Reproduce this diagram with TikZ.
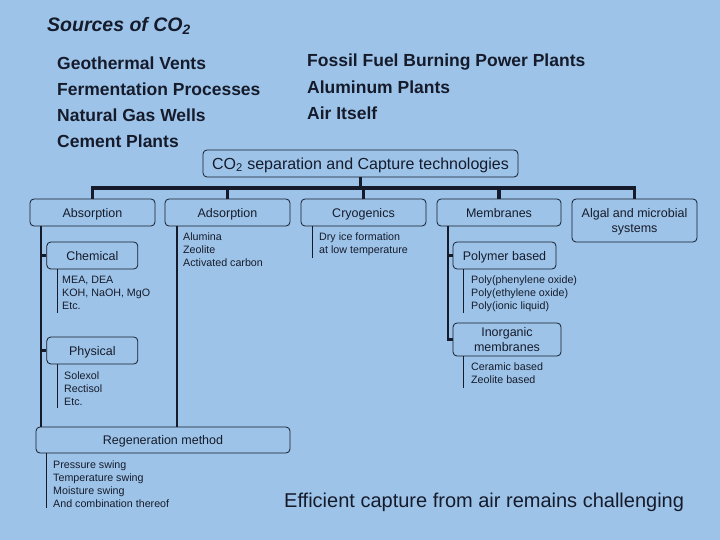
\documentclass[tikz,border=0pt]{standalone}
\usepackage{fontspec}
\setmainfont{Liberation Sans}
\usetikzlibrary{positioning}
\definecolor{slidebg}{RGB}{157,196,232}
\definecolor{ink}{RGB}{22,27,44}

\begin{document}
\begin{tikzpicture}[
    x=1pt, y=-1pt,
    font=\fontsize{12.5}{14.5}\selectfont,
    every node/.style={text=ink},
    box/.style={rectangle, rounded corners=4pt, draw=ink, line width=0.8pt, inner sep=0pt, text depth=0pt, minimum width=125pt, minimum height=27pt, align=center},
    items/.style={anchor=north west, inner sep=0pt, align=left, font=\fontsize{10.7}{13}\selectfont},
    source/.style={anchor=base west, inner sep=0pt, font=\fontsize{17.5}{21}\selectfont\bfseries},
    bus/.style={draw=ink, line width=3.4pt},
    stem/.style={draw=ink, line width=2.2pt},
    rule/.style={draw=ink, line width=0.8pt},
]
\fill[slidebg] (0,0) rectangle (720,540);
\useasboundingbox (0,0) rectangle (720,540);

% Sources
\node[anchor=base west, inner sep=0pt, font=\fontsize{19.5}{22}\selectfont\bfseries\itshape] (title) at (47,31.5) {Sources of CO\textsubscript{2}};
\node[source] (geo) at (57,70) {Geothermal Vents};
\node[source] (ferm) at (57,96) {Fermentation Processes};
\node[source] (gas) at (57,122) {Natural Gas Wells};
\node[source] (cement) at (57,147.5) {Cement Plants};
\node[source] (fossil) at (307,67) {Fossil Fuel Burning Power Plants};
\node[source] (alum) at (307,94) {Aluminum Plants};
\node[source] (air) at (307,120) {Air Itself};

% Technologies
\node[box, minimum width=315pt, font=\fontsize{16}{19}\selectfont] (tech) at (360.5,163.5) {CO\textsubscript{2} separation and Capture technologies};
\node[box] (absorb) at (92.5,212.5) {Absorption};
\node[box] (adsorb) at (227.5,212.5) {Adsorption};
\node[box] (cryo) at (363.5,212.5) {Cryogenics};
\node[box, minimum width=124pt] (membr) at (499,212.5) {Membranes};
\node[box, minimum height=43pt] (algal) at (634.5,220.5) {Algal and microbial\\systems};

% Sub-classes
\node[box, minimum width=91pt] (chem) at (92.3,255.5) {Chemical};
\node[box, minimum width=91pt] (phys) at (92.3,350.5) {Physical};
\node[box, minimum width=254pt, minimum height=26pt] (regen) at (163,440) {Regeneration method};
\node[box, minimum width=103pt] (polym) at (504.5,255.5) {Polymer based};
\node[box, minimum width=108pt, minimum height=33pt] (inorg) at (507,339.5) {Inorganic\\membranes};

% Examples
\node[items] (adsitems) at (183,233) {Alumina\\Zeolite\\Activated carbon};
\node[items] (cryitems) at (319,233) {Dry ice formation\\at low temperature};
\node[items] (chemitems) at (62,275.6) {MEA, DEA\\KOH, NaOH, MgO\\Etc.};
\node[items] (physitems) at (64,371.3) {Solexol\\Rectisol\\Etc.};
\node[items] (regitems) at (53,460.6) {Pressure swing\\Temperature swing\\Moisture swing\\And combination thereof};
\node[items] (polyitems) at (471,275.6) {Poly(phenylene oxide)\\Poly(ethylene oxide)\\Poly(ionic liquid)};
\node[items] (inoitems) at (471,362.3) {Ceramic based\\Zeolite based};

% Tree
\coordinate (busR) at (634.5,188);
\draw[bus] (absorb.north) |- (busR) -- (algal.north);
\foreach \n in {adsorb, cryo, membr}
  \draw[bus] (\n.north |- busR) -- (\n.north);
\draw[bus] (tech.south) -- (tech.south |- busR);

\coordinate (absstem) at (40.7,226);
\coordinate (adsstem) at (176.7,226);
\coordinate (memstem) at (448,226);
\draw[stem] (absstem) -- (absstem |- regen.north);
\draw[stem] (adsstem) -- (adsstem |- regen.north);
\draw[stem] (chem.west) -- (chem.west -| absstem);
\draw[stem] (phys.west) -- (phys.west -| absstem);
\draw[stem] (polym.west) -- (polym.west -| memstem);
\draw[stem] (memstem) |- (inorg.west);

% Example rules
\draw[rule] (chem.south -| 57.3,0) -- (57.3,313);
\draw[rule] (cryo.south -| 312.3,0) -- (312.3,258);
\draw[rule] (phys.south -| 57.3,0) -- (57.3,408);
\draw[rule] (regen.south -| 46.7,0) -- (46.7,508);
\draw[rule] (polym.south -| 463.3,0) -- (463.3,313);
\draw[rule] (inorg.south -| 463.3,0) -- (463.3,388);

\node[anchor=base west, inner sep=0pt, font=\fontsize{20}{24}\selectfont] (note) at (284,507) {Efficient capture from air remains challenging};
\end{tikzpicture}
\end{document}
